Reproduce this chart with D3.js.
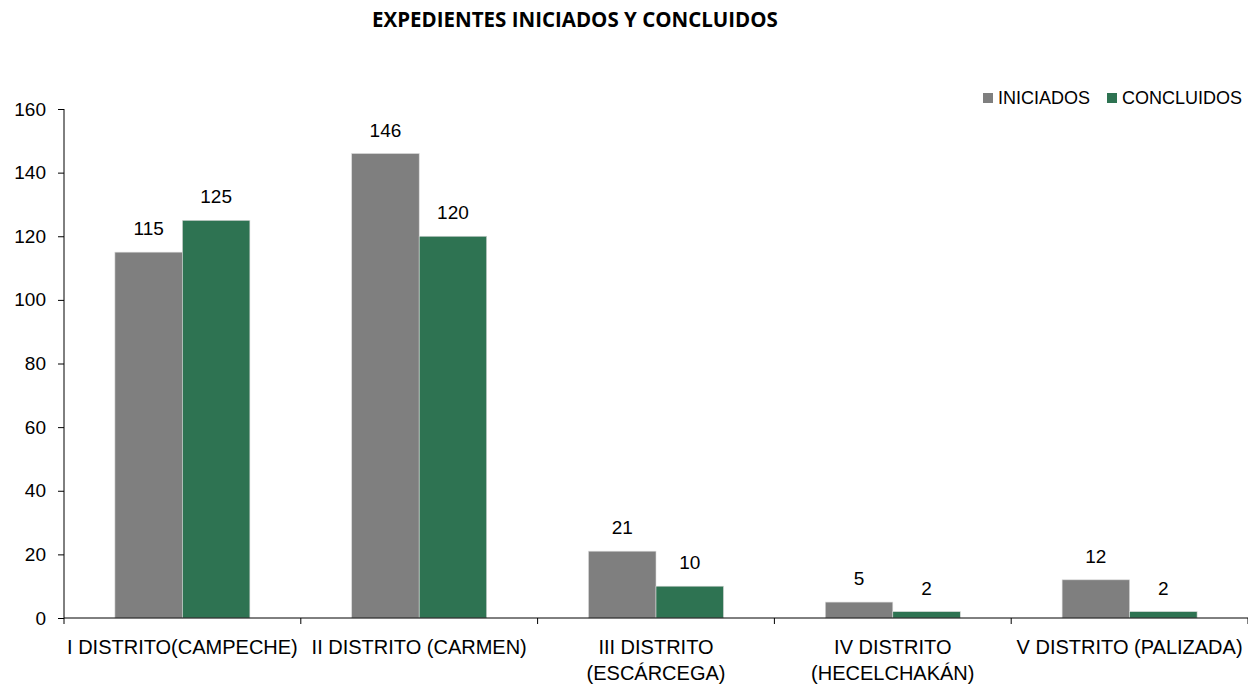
<!DOCTYPE html>
<html>
<head>
<meta charset="utf-8">
<script src="https://cdn.jsdelivr.net/npm/d3@7"></script>
<style>
  body { margin: 0; background: #fff; }
  svg text { font-family: "Liberation Sans", Arial, sans-serif; fill: #000; }
</style>
</head>
<body>
<svg id="chart" width="1248" height="685"></svg>
<script>
// data
const categories = [
  ["I DISTRITO(CAMPECHE)"],
  ["II DISTRITO (CARMEN)"],
  ["III DISTRITO", "(ESCÁRCEGA)"],
  ["IV DISTRITO", "(HECELCHAKÁN)"],
  ["V DISTRITO (PALIZADA)"]
];
const seriesNames = ["INICIADOS", "CONCLUIDOS"];
const iniciados = [115, 146, 21, 5, 12];
const concluidos = [125, 120, 10, 2, 2];
const yTicks = [0, 20, 40, 60, 80, 100, 120, 140, 160];
const colors = ["#7f7f7f", "#2e7352"];

const svg = d3.select("#chart");
const margin = { top: 109, right: 0, bottom: 67, left: 64 };
const width = 1248, height = 685;

const x = d3.scaleBand()
  .domain(d3.range(categories.length))
  .range([margin.left, width - margin.right])
  .padding(0);

const xInner = d3.scaleBand()
  .domain(seriesNames)
  .range([x.bandwidth() * 0.215, x.bandwidth() * 0.785]);

const y = d3.scaleLinear().domain([0, 160]).range([height - margin.bottom, margin.top]);

// title
svg.append("text")
  .attr("x", 575).attr("y", 27)
  .attr("text-anchor", "middle")
  .style("font-family", "'Open Sans', sans-serif")
  .style("font-weight", "bold")
  .style("font-size", "20.5px")
  .text("EXPEDIENTES INICIADOS Y CONCLUIDOS");

// bars
const rows = categories.map((c, i) => ({ i, vals: [iniciados[i], concluidos[i]] }));
const groups = svg.append("g").selectAll("g")
  .data(rows).join("g")
  .attr("transform", d => `translate(${x(d.i)},0)`);

groups.selectAll("rect")
  .data(d => d.vals.map((v, k) => ({ v, k })))
  .join("rect")
  .attr("x", d => xInner(seriesNames[d.k]))
  .attr("width", xInner.bandwidth())
  .attr("y", d => y(d.v))
  .attr("height", d => y(0) - y(d.v))
  .attr("fill", d => colors[d.k])
  .attr("stroke", "#d9d9d9")
  .attr("stroke-width", 0.6);

groups.selectAll("text.val")
  .data(d => d.vals.map((v, k) => ({ v, k })))
  .join("text")
  .attr("class", "val")
  .attr("x", d => xInner(seriesNames[d.k]) + xInner.bandwidth() / 2)
  .attr("y", d => y(d.v) - 17)
  .attr("text-anchor", "middle")
  .style("font-size", "19px")
  .text(d => d.v);

// y axis
const yAxis = svg.append("g")
  .attr("transform", `translate(${margin.left},0)`)
  .call(d3.axisLeft(y).tickValues(yTicks).tickSize(6).tickPadding(12));
yAxis.selectAll("text").style("font-size", "19px").attr("fill", "#000");
yAxis.selectAll("line, path").attr("stroke", "#000");
yAxis.select(".domain").attr("d", `M0,${y(0)}V${y(160)}`);

// x axis
const xg = svg.append("g").attr("transform", `translate(0,${y(0)})`);
xg.append("line")
  .attr("x1", margin.left).attr("x2", width - margin.right)
  .attr("stroke", "#000");
const bounds = d3.range(categories.length + 1).map(i => margin.left + i * x.step());
xg.selectAll("line.tk")
  .data(bounds).join("line")
  .attr("class", "tk")
  .attr("x1", d => d).attr("x2", d => d)
  .attr("y1", 0).attr("y2", 6)
  .attr("stroke", "#000");

const lbl = svg.append("g").selectAll("text")
  .data(categories).join("text")
  .attr("x", (d, i) => x(i) + x.bandwidth() / 2)
  .attr("y", 654)
  .attr("text-anchor", "middle")
  .style("font-size", "20px");
lbl.selectAll("tspan")
  .data(d => d).join("tspan")
  .attr("x", function () { return this.parentNode.getAttribute("x"); })
  .attr("dy", (d, k) => k === 0 ? 0 : 26)
  .text(d => d);

// legend
const legend = svg.append("g").attr("transform", "translate(983,93)");
const lx = [0, 124];
seriesNames.forEach((s, k) => {
  legend.append("rect")
    .attr("x", lx[k]).attr("y", 0)
    .attr("width", 10).attr("height", 10)
    .attr("fill", colors[k]);
  legend.append("text")
    .attr("x", lx[k] + 15).attr("y", 11)
    .style("font-size", "18px")
    .text(s);
});
</script>
</body>
</html>
